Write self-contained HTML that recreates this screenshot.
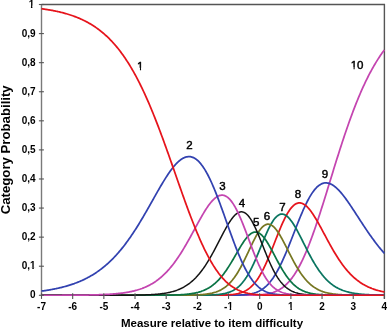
<!DOCTYPE html>
<html><head><meta charset="utf-8"><title>Category probability curves</title><style>
html,body{margin:0;padding:0;background:#fff;width:387px;height:330px;overflow:hidden;}
svg{display:block;will-change:transform;}
</style></head><body>
<svg width="387" height="330" viewBox="0 0 387 330" font-family="Liberation Sans, sans-serif">
<rect width="387" height="330" fill="#fff"/>
<path d="M41.5 4.5H384.4V298.8" fill="none" stroke="#555" stroke-width="1.4"/>
<line x1="41.5" y1="4.5" x2="41.5" y2="295.3" stroke="#7a7a7a" stroke-width="1.4"/>
<line x1="41.5" y1="295.3" x2="384.4" y2="295.3" stroke="#7a7a7a" stroke-width="1.2"/>
<defs><clipPath id="pc"><rect x="0" y="0" width="387" height="296.1"/></clipPath></defs>
<g fill="none" stroke-linejoin="round" clip-path="url(#pc)">
<polyline points="41.50,295.30 42.28,295.30 43.06,295.30 43.84,295.30 44.62,295.30 45.40,295.30 46.18,295.30 46.96,295.30 47.73,295.30 48.51,295.30 49.29,295.30 50.07,295.30 50.85,295.30 51.63,295.30 52.41,295.30 53.19,295.30 53.97,295.30 54.75,295.30 55.53,295.30 56.31,295.30 57.09,295.30 57.87,295.30 58.64,295.30 59.42,295.30 60.20,295.30 60.98,295.30 61.76,295.30 62.54,295.30 63.32,295.30 64.10,295.30 64.88,295.30 65.66,295.30 66.44,295.30 67.22,295.30 68.00,295.30 68.78,295.30 69.56,295.30 70.33,295.30 71.11,295.30 71.89,295.30 72.67,295.30 73.45,295.30 74.23,295.30 75.01,295.30 75.79,295.30 76.57,295.30 77.35,295.30 78.13,295.30 78.91,295.30 79.69,295.30 80.47,295.30 81.25,295.30 82.02,295.30 82.80,295.30 83.58,295.30 84.36,295.30 85.14,295.30 85.92,295.30 86.70,295.30 87.48,295.30 88.26,295.30 89.04,295.30 89.82,295.30 90.60,295.30 91.38,295.30 92.16,295.30 92.94,295.30 93.71,295.30 94.49,295.30 95.27,295.30 96.05,295.30 96.83,295.30 97.61,295.30 98.39,295.30 99.17,295.30 99.95,295.30 100.73,295.30 101.51,295.30 102.29,295.30 103.07,295.30 103.85,295.30 104.62,295.30 105.40,295.30 106.18,295.30 106.96,295.30 107.74,295.30 108.52,295.30 109.30,295.30 110.08,295.30 110.86,295.30 111.64,295.30 112.42,295.30 113.20,295.30 113.98,295.30 114.76,295.30 115.54,295.30 116.31,295.30 117.09,295.30 117.87,295.30 118.65,295.30 119.43,295.30 120.21,295.30 120.99,295.30 121.77,295.30 122.55,295.30 123.33,295.30 124.11,295.30 124.89,295.30 125.67,295.30 126.45,295.30 127.22,295.30 128.00,295.30 128.78,295.30 129.56,295.30 130.34,295.30 131.12,295.30 131.90,295.30 132.68,295.30 133.46,295.30 134.24,295.30 135.02,295.30 135.80,295.30 136.58,295.30 137.36,295.30 138.14,295.30 138.91,295.30 139.69,295.30 140.47,295.30 141.25,295.30 142.03,295.30 142.81,295.30 143.59,295.30 144.37,295.30 145.15,295.30 145.93,295.30 146.71,295.30 147.49,295.30 148.27,295.30 149.05,295.30 149.83,295.30 150.60,295.30 151.38,295.30 152.16,295.30 152.94,295.30 153.72,295.30 154.50,295.30 155.28,295.30 156.06,295.30 156.84,295.30 157.62,295.30 158.40,295.30 159.18,295.30 159.96,295.30 160.74,295.30 161.51,295.30 162.29,295.30 163.07,295.30 163.85,295.30 164.63,295.30 165.41,295.30 166.19,295.30 166.97,295.30 167.75,295.30 168.53,295.30 169.31,295.30 170.09,295.30 170.87,295.30 171.65,295.30 172.43,295.30 173.20,295.30 173.98,295.30 174.76,295.30 175.54,295.30 176.32,295.30 177.10,295.30 177.88,295.30 178.66,295.30 179.44,295.30 180.22,295.30 181.00,295.30 181.78,295.30 182.56,295.30 183.34,295.30 184.12,295.30 184.89,295.30 185.67,295.30 186.45,295.30 187.23,295.30 188.01,295.30 188.79,295.30 189.57,295.30 190.35,295.30 191.13,295.30 191.91,295.30 192.69,295.30 193.47,295.30 194.25,295.30 195.03,295.30 195.81,295.30 196.58,295.30 197.36,295.30 198.14,295.30 198.92,295.30 199.70,295.30 200.48,295.30 201.26,295.30 202.04,295.30 202.82,295.30 203.60,295.30 204.38,295.30 205.16,295.30 205.94,295.30 206.72,295.30 207.49,295.30 208.27,295.30 209.05,295.30 209.83,295.30 210.61,295.30 211.39,295.30 212.17,295.30 212.95,295.30 213.73,295.30 214.51,295.30 215.29,295.30 216.07,295.30 216.85,295.30 217.63,295.30 218.41,295.30 219.18,295.30 219.96,295.30 220.74,295.30 221.52,295.30 222.30,295.30 223.08,295.30 223.86,295.30 224.64,295.30 225.42,295.30 226.20,295.30 226.98,295.30 227.76,295.30 228.54,295.30 229.32,295.30 230.10,295.30 230.87,295.30 231.65,295.30 232.43,295.30 233.21,295.30 233.99,295.30 234.77,295.29 235.55,295.29 236.33,295.29 237.11,295.29 237.89,295.29 238.67,295.29 239.45,295.29 240.23,295.28 241.01,295.28 241.78,295.28 242.56,295.27 243.34,295.27 244.12,295.27 244.90,295.26 245.68,295.25 246.46,295.25 247.24,295.24 248.02,295.23 248.80,295.22 249.58,295.21 250.36,295.19 251.14,295.18 251.92,295.16 252.70,295.14 253.47,295.12 254.25,295.09 255.03,295.07 255.81,295.03 256.59,295.00 257.37,294.96 258.15,294.92 258.93,294.87 259.71,294.82 260.49,294.76 261.27,294.69 262.05,294.62 262.83,294.54 263.61,294.45 264.38,294.35 265.16,294.25 265.94,294.13 266.72,294.00 267.50,293.86 268.28,293.71 269.06,293.54 269.84,293.37 270.62,293.17 271.40,292.96 272.18,292.73 272.96,292.49 273.74,292.22 274.52,291.94 275.30,291.63 276.07,291.30 276.85,290.95 277.63,290.57 278.41,290.17 279.19,289.74 279.97,289.29 280.75,288.80 281.53,288.29 282.31,287.74 283.09,287.16 283.87,286.55 284.65,285.91 285.43,285.23 286.21,284.51 286.99,283.75 287.76,282.96 288.54,282.13 289.32,281.26 290.10,280.35 290.88,279.39 291.66,278.40 292.44,277.36 293.22,276.27 294.00,275.15 294.78,273.98 295.56,272.76 296.34,271.50 297.12,270.19 297.90,268.84 298.68,267.45 299.45,266.00 300.23,264.51 301.01,262.98 301.79,261.40 302.57,259.78 303.35,258.11 304.13,256.39 304.91,254.64 305.69,252.84 306.47,250.99 307.25,249.11 308.03,247.19 308.81,245.22 309.59,243.22 310.36,241.18 311.14,239.10 311.92,236.98 312.70,234.84 313.48,232.66 314.26,230.44 315.04,228.20 315.82,225.93 316.60,223.63 317.38,221.30 318.16,218.95 318.94,216.57 319.72,214.18 320.50,211.76 321.28,209.33 322.05,206.87 322.83,204.41 323.61,201.93 324.39,199.43 325.17,196.93 325.95,194.41 326.73,191.89 327.51,189.37 328.29,186.83 329.07,184.30 329.85,181.76 330.63,179.23 331.41,176.69 332.19,174.16 332.96,171.63 333.74,169.11 334.52,166.60 335.30,164.09 336.08,161.59 336.86,159.10 337.64,156.62 338.42,154.16 339.20,151.71 339.98,149.28 340.76,146.86 341.54,144.45 342.32,142.07 343.10,139.70 343.88,137.35 344.65,135.03 345.43,132.72 346.21,130.43 346.99,128.17 347.77,125.93 348.55,123.71 349.33,121.52 350.11,119.35 350.89,117.21 351.67,115.09 352.45,112.99 353.23,110.92 354.01,108.88 354.79,106.87 355.57,104.88 356.34,102.91 357.12,100.98 357.90,99.07 358.68,97.19 359.46,95.33 360.24,93.51 361.02,91.71 361.80,89.94 362.58,88.19 363.36,86.47 364.14,84.79 364.92,83.12 365.70,81.49 366.48,79.88 367.26,78.30 368.03,76.74 368.81,75.22 369.59,73.71 370.37,72.24 371.15,70.79 371.93,69.37 372.71,67.97 373.49,66.60 374.27,65.25 375.05,63.93 375.83,62.63 376.61,61.36 377.39,60.11 378.17,58.89 378.94,57.68 379.72,56.51 380.50,55.35 381.28,54.22 382.06,53.11 382.84,52.02 383.62,50.95 384.40,49.91" stroke="#c445b0" stroke-width="1.75"/>
<polyline points="41.50,295.30 42.28,295.30 43.06,295.30 43.84,295.30 44.62,295.30 45.40,295.30 46.18,295.30 46.96,295.30 47.73,295.30 48.51,295.30 49.29,295.30 50.07,295.30 50.85,295.30 51.63,295.30 52.41,295.30 53.19,295.30 53.97,295.30 54.75,295.30 55.53,295.30 56.31,295.30 57.09,295.30 57.87,295.30 58.64,295.30 59.42,295.30 60.20,295.30 60.98,295.30 61.76,295.30 62.54,295.30 63.32,295.30 64.10,295.30 64.88,295.30 65.66,295.30 66.44,295.30 67.22,295.30 68.00,295.30 68.78,295.30 69.56,295.30 70.33,295.30 71.11,295.30 71.89,295.30 72.67,295.30 73.45,295.30 74.23,295.30 75.01,295.30 75.79,295.30 76.57,295.30 77.35,295.30 78.13,295.30 78.91,295.30 79.69,295.30 80.47,295.30 81.25,295.30 82.02,295.30 82.80,295.30 83.58,295.30 84.36,295.30 85.14,295.30 85.92,295.30 86.70,295.30 87.48,295.30 88.26,295.30 89.04,295.30 89.82,295.30 90.60,295.30 91.38,295.30 92.16,295.30 92.94,295.30 93.71,295.30 94.49,295.30 95.27,295.30 96.05,295.30 96.83,295.30 97.61,295.30 98.39,295.30 99.17,295.30 99.95,295.30 100.73,295.30 101.51,295.30 102.29,295.30 103.07,295.30 103.85,295.30 104.62,295.30 105.40,295.30 106.18,295.30 106.96,295.30 107.74,295.30 108.52,295.30 109.30,295.30 110.08,295.30 110.86,295.30 111.64,295.30 112.42,295.30 113.20,295.30 113.98,295.30 114.76,295.30 115.54,295.30 116.31,295.30 117.09,295.30 117.87,295.30 118.65,295.30 119.43,295.30 120.21,295.30 120.99,295.30 121.77,295.30 122.55,295.30 123.33,295.30 124.11,295.30 124.89,295.30 125.67,295.30 126.45,295.30 127.22,295.30 128.00,295.30 128.78,295.30 129.56,295.30 130.34,295.30 131.12,295.30 131.90,295.30 132.68,295.30 133.46,295.30 134.24,295.30 135.02,295.30 135.80,295.30 136.58,295.30 137.36,295.30 138.14,295.30 138.91,295.30 139.69,295.30 140.47,295.30 141.25,295.30 142.03,295.30 142.81,295.30 143.59,295.30 144.37,295.30 145.15,295.30 145.93,295.30 146.71,295.30 147.49,295.30 148.27,295.30 149.05,295.30 149.83,295.30 150.60,295.30 151.38,295.30 152.16,295.30 152.94,295.30 153.72,295.30 154.50,295.30 155.28,295.30 156.06,295.30 156.84,295.30 157.62,295.30 158.40,295.30 159.18,295.30 159.96,295.30 160.74,295.30 161.51,295.30 162.29,295.30 163.07,295.30 163.85,295.30 164.63,295.30 165.41,295.30 166.19,295.30 166.97,295.30 167.75,295.30 168.53,295.30 169.31,295.30 170.09,295.30 170.87,295.30 171.65,295.30 172.43,295.30 173.20,295.30 173.98,295.30 174.76,295.30 175.54,295.30 176.32,295.30 177.10,295.30 177.88,295.30 178.66,295.30 179.44,295.30 180.22,295.30 181.00,295.30 181.78,295.30 182.56,295.30 183.34,295.30 184.12,295.30 184.89,295.30 185.67,295.30 186.45,295.30 187.23,295.30 188.01,295.30 188.79,295.30 189.57,295.30 190.35,295.30 191.13,295.30 191.91,295.30 192.69,295.30 193.47,295.30 194.25,295.30 195.03,295.30 195.81,295.30 196.58,295.30 197.36,295.30 198.14,295.30 198.92,295.30 199.70,295.30 200.48,295.30 201.26,295.30 202.04,295.30 202.82,295.30 203.60,295.30 204.38,295.30 205.16,295.30 205.94,295.30 206.72,295.30 207.49,295.30 208.27,295.30 209.05,295.30 209.83,295.30 210.61,295.30 211.39,295.30 212.17,295.30 212.95,295.30 213.73,295.30 214.51,295.30 215.29,295.30 216.07,295.30 216.85,295.30 217.63,295.30 218.41,295.29 219.18,295.29 219.96,295.29 220.74,295.29 221.52,295.29 222.30,295.29 223.08,295.29 223.86,295.28 224.64,295.28 225.42,295.28 226.20,295.28 226.98,295.27 227.76,295.27 228.54,295.26 229.32,295.26 230.10,295.25 230.87,295.24 231.65,295.23 232.43,295.22 233.21,295.21 233.99,295.20 234.77,295.18 235.55,295.17 236.33,295.15 237.11,295.13 237.89,295.10 238.67,295.08 239.45,295.05 240.23,295.01 241.01,294.97 241.78,294.93 242.56,294.88 243.34,294.82 244.12,294.76 244.90,294.70 245.68,294.62 246.46,294.53 247.24,294.44 248.02,294.34 248.80,294.22 249.58,294.09 250.36,293.95 251.14,293.80 251.92,293.63 252.70,293.44 253.47,293.23 254.25,293.01 255.03,292.76 255.81,292.50 256.59,292.21 257.37,291.89 258.15,291.55 258.93,291.18 259.71,290.78 260.49,290.35 261.27,289.89 262.05,289.40 262.83,288.86 263.61,288.30 264.38,287.69 265.16,287.04 265.94,286.35 266.72,285.62 267.50,284.85 268.28,284.03 269.06,283.17 269.84,282.26 270.62,281.30 271.40,280.29 272.18,279.24 272.96,278.14 273.74,276.98 274.52,275.78 275.30,274.53 276.07,273.23 276.85,271.88 277.63,270.48 278.41,269.04 279.19,267.55 279.97,266.01 280.75,264.43 281.53,262.81 282.31,261.14 283.09,259.44 283.87,257.70 284.65,255.92 285.43,254.11 286.21,252.26 286.99,250.39 287.76,248.49 288.54,246.57 289.32,244.63 290.10,242.67 290.88,240.70 291.66,238.71 292.44,236.71 293.22,234.71 294.00,232.71 294.78,230.71 295.56,228.71 296.34,226.72 297.12,224.75 297.90,222.78 298.68,220.84 299.45,218.91 300.23,217.01 301.01,215.14 301.79,213.30 302.57,211.49 303.35,209.72 304.13,207.99 304.91,206.30 305.69,204.65 306.47,203.06 307.25,201.51 308.03,200.01 308.81,198.57 309.59,197.19 310.36,195.86 311.14,194.59 311.92,193.38 312.70,192.24 313.48,191.16 314.26,190.14 315.04,189.19 315.82,188.30 316.60,187.48 317.38,186.73 318.16,186.05 318.94,185.43 319.72,184.88 320.50,184.40 321.28,183.99 322.05,183.64 322.83,183.36 323.61,183.14 324.39,182.99 325.17,182.90 325.95,182.87 326.73,182.91 327.51,183.01 328.29,183.16 329.07,183.37 329.85,183.64 330.63,183.97 331.41,184.35 332.19,184.78 332.96,185.25 333.74,185.78 334.52,186.36 335.30,186.98 336.08,187.64 336.86,188.34 337.64,189.09 338.42,189.87 339.20,190.69 339.98,191.54 340.76,192.43 341.54,193.34 342.32,194.29 343.10,195.26 343.88,196.26 344.65,197.28 345.43,198.32 346.21,199.39 346.99,200.47 347.77,201.57 348.55,202.69 349.33,203.82 350.11,204.97 350.89,206.12 351.67,207.29 352.45,208.47 353.23,209.65 354.01,210.84 354.79,212.03 355.57,213.23 356.34,214.43 357.12,215.64 357.90,216.84 358.68,218.04 359.46,219.25 360.24,220.45 361.02,221.64 361.80,222.84 362.58,224.03 363.36,225.21 364.14,226.39 364.92,227.56 365.70,228.72 366.48,229.88 367.26,231.02 368.03,232.16 368.81,233.29 369.59,234.41 370.37,235.52 371.15,236.61 371.93,237.70 372.71,238.77 373.49,239.84 374.27,240.89 375.05,241.93 375.83,242.95 376.61,243.97 377.39,244.97 378.17,245.95 378.94,246.93 379.72,247.89 380.50,248.83 381.28,249.77 382.06,250.69 382.84,251.59 383.62,252.48 384.40,253.36" stroke="#3242b0" stroke-width="1.75"/>
<polyline points="41.50,295.30 42.28,295.30 43.06,295.30 43.84,295.30 44.62,295.30 45.40,295.30 46.18,295.30 46.96,295.30 47.73,295.30 48.51,295.30 49.29,295.30 50.07,295.30 50.85,295.30 51.63,295.30 52.41,295.30 53.19,295.30 53.97,295.30 54.75,295.30 55.53,295.30 56.31,295.30 57.09,295.30 57.87,295.30 58.64,295.30 59.42,295.30 60.20,295.30 60.98,295.30 61.76,295.30 62.54,295.30 63.32,295.30 64.10,295.30 64.88,295.30 65.66,295.30 66.44,295.30 67.22,295.30 68.00,295.30 68.78,295.30 69.56,295.30 70.33,295.30 71.11,295.30 71.89,295.30 72.67,295.30 73.45,295.30 74.23,295.30 75.01,295.30 75.79,295.30 76.57,295.30 77.35,295.30 78.13,295.30 78.91,295.30 79.69,295.30 80.47,295.30 81.25,295.30 82.02,295.30 82.80,295.30 83.58,295.30 84.36,295.30 85.14,295.30 85.92,295.30 86.70,295.30 87.48,295.30 88.26,295.30 89.04,295.30 89.82,295.30 90.60,295.30 91.38,295.30 92.16,295.30 92.94,295.30 93.71,295.30 94.49,295.30 95.27,295.30 96.05,295.30 96.83,295.30 97.61,295.30 98.39,295.30 99.17,295.30 99.95,295.30 100.73,295.30 101.51,295.30 102.29,295.30 103.07,295.30 103.85,295.30 104.62,295.30 105.40,295.30 106.18,295.30 106.96,295.30 107.74,295.30 108.52,295.30 109.30,295.30 110.08,295.30 110.86,295.30 111.64,295.30 112.42,295.30 113.20,295.30 113.98,295.30 114.76,295.30 115.54,295.30 116.31,295.30 117.09,295.30 117.87,295.30 118.65,295.30 119.43,295.30 120.21,295.30 120.99,295.30 121.77,295.30 122.55,295.30 123.33,295.30 124.11,295.30 124.89,295.30 125.67,295.30 126.45,295.30 127.22,295.30 128.00,295.30 128.78,295.30 129.56,295.30 130.34,295.30 131.12,295.30 131.90,295.30 132.68,295.30 133.46,295.30 134.24,295.30 135.02,295.30 135.80,295.30 136.58,295.30 137.36,295.30 138.14,295.30 138.91,295.30 139.69,295.30 140.47,295.30 141.25,295.30 142.03,295.30 142.81,295.30 143.59,295.30 144.37,295.30 145.15,295.30 145.93,295.30 146.71,295.30 147.49,295.30 148.27,295.30 149.05,295.30 149.83,295.30 150.60,295.30 151.38,295.30 152.16,295.30 152.94,295.30 153.72,295.30 154.50,295.30 155.28,295.30 156.06,295.30 156.84,295.30 157.62,295.30 158.40,295.30 159.18,295.30 159.96,295.30 160.74,295.30 161.51,295.30 162.29,295.30 163.07,295.30 163.85,295.30 164.63,295.30 165.41,295.30 166.19,295.30 166.97,295.30 167.75,295.30 168.53,295.30 169.31,295.30 170.09,295.30 170.87,295.30 171.65,295.30 172.43,295.30 173.20,295.30 173.98,295.30 174.76,295.30 175.54,295.30 176.32,295.30 177.10,295.30 177.88,295.30 178.66,295.30 179.44,295.30 180.22,295.30 181.00,295.30 181.78,295.30 182.56,295.30 183.34,295.30 184.12,295.30 184.89,295.30 185.67,295.30 186.45,295.30 187.23,295.30 188.01,295.30 188.79,295.30 189.57,295.30 190.35,295.30 191.13,295.30 191.91,295.30 192.69,295.30 193.47,295.30 194.25,295.30 195.03,295.30 195.81,295.30 196.58,295.30 197.36,295.30 198.14,295.30 198.92,295.30 199.70,295.30 200.48,295.30 201.26,295.30 202.04,295.29 202.82,295.29 203.60,295.29 204.38,295.29 205.16,295.29 205.94,295.29 206.72,295.29 207.49,295.29 208.27,295.28 209.05,295.28 209.83,295.28 210.61,295.28 211.39,295.27 212.17,295.27 212.95,295.26 213.73,295.26 214.51,295.25 215.29,295.25 216.07,295.24 216.85,295.23 217.63,295.22 218.41,295.21 219.18,295.20 219.96,295.18 220.74,295.17 221.52,295.15 222.30,295.13 223.08,295.11 223.86,295.08 224.64,295.05 225.42,295.02 226.20,294.99 226.98,294.95 227.76,294.90 228.54,294.85 229.32,294.80 230.10,294.73 230.87,294.67 231.65,294.59 232.43,294.50 233.21,294.41 233.99,294.30 234.77,294.19 235.55,294.06 236.33,293.92 237.11,293.76 237.89,293.59 238.67,293.40 239.45,293.19 240.23,292.96 241.01,292.71 241.78,292.44 242.56,292.15 243.34,291.82 244.12,291.47 244.90,291.09 245.68,290.68 246.46,290.23 247.24,289.75 248.02,289.23 248.80,288.67 249.58,288.07 250.36,287.42 251.14,286.73 251.92,286.00 252.70,285.21 253.47,284.37 254.25,283.49 255.03,282.55 255.81,281.55 256.59,280.50 257.37,279.40 258.15,278.24 258.93,277.02 259.71,275.75 260.49,274.41 261.27,273.03 262.05,271.59 262.83,270.09 263.61,268.54 264.38,266.94 265.16,265.29 265.94,263.59 266.72,261.85 267.50,260.07 268.28,258.25 269.06,256.39 269.84,254.51 270.62,252.59 271.40,250.65 272.18,248.69 272.96,246.72 273.74,244.74 274.52,242.75 275.30,240.76 276.07,238.78 276.85,236.81 277.63,234.85 278.41,232.91 279.19,230.99 279.97,229.11 280.75,227.26 281.53,225.45 282.31,223.68 283.09,221.96 283.87,220.30 284.65,218.69 285.43,217.15 286.21,215.67 286.99,214.25 287.76,212.91 288.54,211.65 289.32,210.46 290.10,209.36 290.88,208.33 291.66,207.39 292.44,206.54 293.22,205.78 294.00,205.10 294.78,204.52 295.56,204.02 296.34,203.62 297.12,203.30 297.90,203.08 298.68,202.94 299.45,202.89 300.23,202.93 301.01,203.06 301.79,203.27 302.57,203.56 303.35,203.94 304.13,204.39 304.91,204.92 305.69,205.52 306.47,206.19 307.25,206.94 308.03,207.74 308.81,208.61 309.59,209.54 310.36,210.53 311.14,211.57 311.92,212.65 312.70,213.79 313.48,214.97 314.26,216.19 315.04,217.44 315.82,218.73 316.60,220.05 317.38,221.40 318.16,222.77 318.94,224.16 319.72,225.57 320.50,226.99 321.28,228.43 322.05,229.88 322.83,231.33 323.61,232.79 324.39,234.25 325.17,235.71 325.95,237.17 326.73,238.62 327.51,240.07 328.29,241.51 329.07,242.94 329.85,244.35 330.63,245.75 331.41,247.14 332.19,248.51 332.96,249.86 333.74,251.20 334.52,252.51 335.30,253.81 336.08,255.08 336.86,256.33 337.64,257.56 338.42,258.76 339.20,259.94 339.98,261.09 340.76,262.22 341.54,263.32 342.32,264.40 343.10,265.46 343.88,266.48 344.65,267.48 345.43,268.46 346.21,269.41 346.99,270.34 347.77,271.23 348.55,272.11 349.33,272.96 350.11,273.78 350.89,274.58 351.67,275.36 352.45,276.11 353.23,276.84 354.01,277.54 354.79,278.23 355.57,278.89 356.34,279.53 357.12,280.15 357.90,280.74 358.68,281.32 359.46,281.88 360.24,282.42 361.02,282.94 361.80,283.44 362.58,283.92 363.36,284.38 364.14,284.83 364.92,285.26 365.70,285.68 366.48,286.08 367.26,286.47 368.03,286.84 368.81,287.19 369.59,287.54 370.37,287.87 371.15,288.18 371.93,288.49 372.71,288.78 373.49,289.06 374.27,289.33 375.05,289.59 375.83,289.84 376.61,290.07 377.39,290.30 378.17,290.52 378.94,290.73 379.72,290.93 380.50,291.12 381.28,291.31 382.06,291.49 382.84,291.66 383.62,291.82 384.40,291.97" stroke="#e6141c" stroke-width="1.75"/>
<polyline points="41.50,295.30 42.28,295.30 43.06,295.30 43.84,295.30 44.62,295.30 45.40,295.30 46.18,295.30 46.96,295.30 47.73,295.30 48.51,295.30 49.29,295.30 50.07,295.30 50.85,295.30 51.63,295.30 52.41,295.30 53.19,295.30 53.97,295.30 54.75,295.30 55.53,295.30 56.31,295.30 57.09,295.30 57.87,295.30 58.64,295.30 59.42,295.30 60.20,295.30 60.98,295.30 61.76,295.30 62.54,295.30 63.32,295.30 64.10,295.30 64.88,295.30 65.66,295.30 66.44,295.30 67.22,295.30 68.00,295.30 68.78,295.30 69.56,295.30 70.33,295.30 71.11,295.30 71.89,295.30 72.67,295.30 73.45,295.30 74.23,295.30 75.01,295.30 75.79,295.30 76.57,295.30 77.35,295.30 78.13,295.30 78.91,295.30 79.69,295.30 80.47,295.30 81.25,295.30 82.02,295.30 82.80,295.30 83.58,295.30 84.36,295.30 85.14,295.30 85.92,295.30 86.70,295.30 87.48,295.30 88.26,295.30 89.04,295.30 89.82,295.30 90.60,295.30 91.38,295.30 92.16,295.30 92.94,295.30 93.71,295.30 94.49,295.30 95.27,295.30 96.05,295.30 96.83,295.30 97.61,295.30 98.39,295.30 99.17,295.30 99.95,295.30 100.73,295.30 101.51,295.30 102.29,295.30 103.07,295.30 103.85,295.30 104.62,295.30 105.40,295.30 106.18,295.30 106.96,295.30 107.74,295.30 108.52,295.30 109.30,295.30 110.08,295.30 110.86,295.30 111.64,295.30 112.42,295.30 113.20,295.30 113.98,295.30 114.76,295.30 115.54,295.30 116.31,295.30 117.09,295.30 117.87,295.30 118.65,295.30 119.43,295.30 120.21,295.30 120.99,295.30 121.77,295.30 122.55,295.30 123.33,295.30 124.11,295.30 124.89,295.30 125.67,295.30 126.45,295.30 127.22,295.30 128.00,295.30 128.78,295.30 129.56,295.30 130.34,295.30 131.12,295.30 131.90,295.30 132.68,295.30 133.46,295.30 134.24,295.30 135.02,295.30 135.80,295.30 136.58,295.30 137.36,295.30 138.14,295.30 138.91,295.30 139.69,295.30 140.47,295.30 141.25,295.30 142.03,295.30 142.81,295.30 143.59,295.30 144.37,295.30 145.15,295.30 145.93,295.30 146.71,295.30 147.49,295.30 148.27,295.30 149.05,295.30 149.83,295.30 150.60,295.30 151.38,295.30 152.16,295.30 152.94,295.30 153.72,295.30 154.50,295.30 155.28,295.30 156.06,295.30 156.84,295.30 157.62,295.30 158.40,295.30 159.18,295.30 159.96,295.30 160.74,295.30 161.51,295.30 162.29,295.30 163.07,295.30 163.85,295.30 164.63,295.30 165.41,295.30 166.19,295.30 166.97,295.30 167.75,295.30 168.53,295.30 169.31,295.30 170.09,295.30 170.87,295.30 171.65,295.30 172.43,295.30 173.20,295.30 173.98,295.30 174.76,295.30 175.54,295.30 176.32,295.30 177.10,295.30 177.88,295.30 178.66,295.30 179.44,295.30 180.22,295.30 181.00,295.30 181.78,295.30 182.56,295.30 183.34,295.30 184.12,295.30 184.89,295.29 185.67,295.29 186.45,295.29 187.23,295.29 188.01,295.29 188.79,295.29 189.57,295.29 190.35,295.29 191.13,295.29 191.91,295.28 192.69,295.28 193.47,295.28 194.25,295.28 195.03,295.27 195.81,295.27 196.58,295.27 197.36,295.26 198.14,295.26 198.92,295.25 199.70,295.25 200.48,295.24 201.26,295.23 202.04,295.22 202.82,295.21 203.60,295.20 204.38,295.19 205.16,295.18 205.94,295.16 206.72,295.14 207.49,295.13 208.27,295.11 209.05,295.08 209.83,295.06 210.61,295.03 211.39,295.00 212.17,294.96 212.95,294.92 213.73,294.88 214.51,294.83 215.29,294.78 216.07,294.72 216.85,294.66 217.63,294.58 218.41,294.51 219.18,294.42 219.96,294.33 220.74,294.22 221.52,294.11 222.30,293.98 223.08,293.84 223.86,293.69 224.64,293.53 225.42,293.35 226.20,293.15 226.98,292.94 227.76,292.70 228.54,292.45 229.32,292.17 230.10,291.88 230.87,291.55 231.65,291.20 232.43,290.82 233.21,290.41 233.99,289.97 234.77,289.50 235.55,288.99 236.33,288.44 237.11,287.86 237.89,287.23 238.67,286.56 239.45,285.85 240.23,285.08 241.01,284.27 241.78,283.42 242.56,282.51 243.34,281.54 244.12,280.53 244.90,279.46 245.68,278.33 246.46,277.15 247.24,275.91 248.02,274.62 248.80,273.27 249.58,271.87 250.36,270.41 251.14,268.90 251.92,267.34 252.70,265.72 253.47,264.07 254.25,262.36 255.03,260.62 255.81,258.84 256.59,257.03 257.37,255.18 258.15,253.32 258.93,251.43 259.71,249.53 260.49,247.62 261.27,245.71 262.05,243.81 262.83,241.91 263.61,240.03 264.38,238.17 265.16,236.34 265.94,234.54 266.72,232.79 267.50,231.08 268.28,229.43 269.06,227.84 269.84,226.31 270.62,224.86 271.40,223.48 272.18,222.18 272.96,220.97 273.74,219.84 274.52,218.81 275.30,217.88 276.07,217.04 276.85,216.31 277.63,215.68 278.41,215.16 279.19,214.74 279.97,214.42 280.75,214.21 281.53,214.11 282.31,214.11 283.09,214.22 283.87,214.43 284.65,214.73 285.43,215.14 286.21,215.63 286.99,216.22 287.76,216.90 288.54,217.66 289.32,218.51 290.10,219.43 290.88,220.42 291.66,221.48 292.44,222.60 293.22,223.79 294.00,225.03 294.78,226.32 295.56,227.65 296.34,229.03 297.12,230.44 297.90,231.89 298.68,233.36 299.45,234.86 300.23,236.38 301.01,237.91 301.79,239.46 302.57,241.01 303.35,242.57 304.13,244.12 304.91,245.68 305.69,247.23 306.47,248.76 307.25,250.29 308.03,251.80 308.81,253.30 309.59,254.77 310.36,256.23 311.14,257.66 311.92,259.07 312.70,260.45 313.48,261.80 314.26,263.12 315.04,264.41 315.82,265.68 316.60,266.90 317.38,268.10 318.16,269.26 318.94,270.39 319.72,271.49 320.50,272.55 321.28,273.58 322.05,274.58 322.83,275.54 323.61,276.46 324.39,277.36 325.17,278.22 325.95,279.05 326.73,279.85 327.51,280.61 328.29,281.35 329.07,282.05 329.85,282.73 330.63,283.38 331.41,284.00 332.19,284.59 332.96,285.16 333.74,285.70 334.52,286.22 335.30,286.71 336.08,287.18 336.86,287.62 337.64,288.05 338.42,288.45 339.20,288.84 339.98,289.20 340.76,289.55 341.54,289.88 342.32,290.19 343.10,290.49 343.88,290.77 344.65,291.03 345.43,291.28 346.21,291.52 346.99,291.75 347.77,291.96 348.55,292.16 349.33,292.35 350.11,292.53 350.89,292.70 351.67,292.86 352.45,293.01 353.23,293.15 354.01,293.28 354.79,293.41 355.57,293.53 356.34,293.64 357.12,293.74 357.90,293.84 358.68,293.93 359.46,294.02 360.24,294.10 361.02,294.18 361.80,294.25 362.58,294.32 363.36,294.38 364.14,294.44 364.92,294.50 365.70,294.55 366.48,294.60 367.26,294.64 368.03,294.69 368.81,294.73 369.59,294.76 370.37,294.80 371.15,294.83 371.93,294.86 372.71,294.89 373.49,294.92 374.27,294.95 375.05,294.97 375.83,294.99 376.61,295.01 377.39,295.03 378.17,295.05 378.94,295.07 379.72,295.08 380.50,295.10 381.28,295.11 382.06,295.12 382.84,295.14 383.62,295.15 384.40,295.16" stroke="#0a7560" stroke-width="1.75"/>
<polyline points="41.50,295.30 42.28,295.30 43.06,295.30 43.84,295.30 44.62,295.30 45.40,295.30 46.18,295.30 46.96,295.30 47.73,295.30 48.51,295.30 49.29,295.30 50.07,295.30 50.85,295.30 51.63,295.30 52.41,295.30 53.19,295.30 53.97,295.30 54.75,295.30 55.53,295.30 56.31,295.30 57.09,295.30 57.87,295.30 58.64,295.30 59.42,295.30 60.20,295.30 60.98,295.30 61.76,295.30 62.54,295.30 63.32,295.30 64.10,295.30 64.88,295.30 65.66,295.30 66.44,295.30 67.22,295.30 68.00,295.30 68.78,295.30 69.56,295.30 70.33,295.30 71.11,295.30 71.89,295.30 72.67,295.30 73.45,295.30 74.23,295.30 75.01,295.30 75.79,295.30 76.57,295.30 77.35,295.30 78.13,295.30 78.91,295.30 79.69,295.30 80.47,295.30 81.25,295.30 82.02,295.30 82.80,295.30 83.58,295.30 84.36,295.30 85.14,295.30 85.92,295.30 86.70,295.30 87.48,295.30 88.26,295.30 89.04,295.30 89.82,295.30 90.60,295.30 91.38,295.30 92.16,295.30 92.94,295.30 93.71,295.30 94.49,295.30 95.27,295.30 96.05,295.30 96.83,295.30 97.61,295.30 98.39,295.30 99.17,295.30 99.95,295.30 100.73,295.30 101.51,295.30 102.29,295.30 103.07,295.30 103.85,295.30 104.62,295.30 105.40,295.30 106.18,295.30 106.96,295.30 107.74,295.30 108.52,295.30 109.30,295.30 110.08,295.30 110.86,295.30 111.64,295.30 112.42,295.30 113.20,295.30 113.98,295.30 114.76,295.30 115.54,295.30 116.31,295.30 117.09,295.30 117.87,295.30 118.65,295.30 119.43,295.30 120.21,295.30 120.99,295.30 121.77,295.30 122.55,295.30 123.33,295.30 124.11,295.30 124.89,295.30 125.67,295.30 126.45,295.30 127.22,295.30 128.00,295.30 128.78,295.30 129.56,295.30 130.34,295.30 131.12,295.30 131.90,295.30 132.68,295.30 133.46,295.30 134.24,295.30 135.02,295.30 135.80,295.30 136.58,295.30 137.36,295.30 138.14,295.30 138.91,295.30 139.69,295.30 140.47,295.30 141.25,295.30 142.03,295.30 142.81,295.30 143.59,295.30 144.37,295.30 145.15,295.30 145.93,295.30 146.71,295.30 147.49,295.30 148.27,295.30 149.05,295.30 149.83,295.30 150.60,295.30 151.38,295.30 152.16,295.30 152.94,295.30 153.72,295.30 154.50,295.30 155.28,295.30 156.06,295.30 156.84,295.30 157.62,295.30 158.40,295.30 159.18,295.30 159.96,295.30 160.74,295.30 161.51,295.30 162.29,295.30 163.07,295.30 163.85,295.30 164.63,295.29 165.41,295.29 166.19,295.29 166.97,295.29 167.75,295.29 168.53,295.29 169.31,295.29 170.09,295.29 170.87,295.29 171.65,295.29 172.43,295.28 173.20,295.28 173.98,295.28 174.76,295.28 175.54,295.28 176.32,295.27 177.10,295.27 177.88,295.27 178.66,295.26 179.44,295.26 180.22,295.26 181.00,295.25 181.78,295.25 182.56,295.24 183.34,295.23 184.12,295.23 184.89,295.22 185.67,295.21 186.45,295.20 187.23,295.19 188.01,295.18 188.79,295.16 189.57,295.15 190.35,295.13 191.13,295.11 191.91,295.10 192.69,295.07 193.47,295.05 194.25,295.03 195.03,295.00 195.81,294.97 196.58,294.93 197.36,294.90 198.14,294.86 198.92,294.81 199.70,294.77 200.48,294.71 201.26,294.66 202.04,294.60 202.82,294.53 203.60,294.46 204.38,294.38 205.16,294.29 205.94,294.19 206.72,294.09 207.49,293.98 208.27,293.86 209.05,293.73 209.83,293.59 210.61,293.43 211.39,293.27 212.17,293.09 212.95,292.89 213.73,292.68 214.51,292.46 215.29,292.22 216.07,291.96 216.85,291.68 217.63,291.38 218.41,291.06 219.18,290.71 219.96,290.34 220.74,289.95 221.52,289.52 222.30,289.07 223.08,288.59 223.86,288.08 224.64,287.54 225.42,286.96 226.20,286.35 226.98,285.70 227.76,285.02 228.54,284.29 229.32,283.52 230.10,282.72 230.87,281.87 231.65,280.97 232.43,280.04 233.21,279.05 233.99,278.03 234.77,276.95 235.55,275.83 236.33,274.67 237.11,273.46 237.89,272.20 238.67,270.90 239.45,269.56 240.23,268.17 241.01,266.75 241.78,265.28 242.56,263.78 243.34,262.25 244.12,260.68 244.90,259.09 245.68,257.48 246.46,255.84 247.24,254.19 248.02,252.53 248.80,250.87 249.58,249.20 250.36,247.54 251.14,245.90 251.92,244.26 252.70,242.66 253.47,241.08 254.25,239.53 255.03,238.03 255.81,236.58 256.59,235.18 257.37,233.84 258.15,232.57 258.93,231.37 259.71,230.25 260.49,229.21 261.27,228.26 262.05,227.40 262.83,226.63 263.61,225.97 264.38,225.41 265.16,224.95 265.94,224.60 266.72,224.35 267.50,224.21 268.28,224.19 269.06,224.27 269.84,224.45 270.62,224.74 271.40,225.14 272.18,225.63 272.96,226.23 273.74,226.91 274.52,227.69 275.30,228.56 276.07,229.50 276.85,230.53 277.63,231.62 278.41,232.78 279.19,234.01 279.97,235.29 280.75,236.62 281.53,238.00 282.31,239.41 283.09,240.86 283.87,242.34 284.65,243.85 285.43,245.37 286.21,246.90 286.99,248.45 287.76,250.00 288.54,251.54 289.32,253.09 290.10,254.62 290.88,256.15 291.66,257.65 292.44,259.14 293.22,260.61 294.00,262.05 294.78,263.47 295.56,264.86 296.34,266.21 297.12,267.53 297.90,268.82 298.68,270.08 299.45,271.30 300.23,272.48 301.01,273.62 301.79,274.72 302.57,275.79 303.35,276.82 304.13,277.81 304.91,278.76 305.69,279.67 306.47,280.54 307.25,281.38 308.03,282.18 308.81,282.94 309.59,283.67 310.36,284.36 311.14,285.03 311.92,285.65 312.70,286.25 313.48,286.82 314.26,287.35 315.04,287.86 315.82,288.34 316.60,288.79 317.38,289.22 318.16,289.63 318.94,290.01 319.72,290.36 320.50,290.70 321.28,291.02 322.05,291.31 322.83,291.59 323.61,291.85 324.39,292.10 325.17,292.33 325.95,292.54 326.73,292.74 327.51,292.93 328.29,293.10 329.07,293.27 329.85,293.42 330.63,293.56 331.41,293.69 332.19,293.81 332.96,293.93 333.74,294.03 334.52,294.13 335.30,294.22 336.08,294.30 336.86,294.38 337.64,294.45 338.42,294.52 339.20,294.58 339.98,294.64 340.76,294.69 341.54,294.74 342.32,294.79 343.10,294.83 343.88,294.87 344.65,294.90 345.43,294.94 346.21,294.97 346.99,294.99 347.77,295.02 348.55,295.04 349.33,295.06 350.11,295.08 350.89,295.10 351.67,295.12 352.45,295.13 353.23,295.15 354.01,295.16 354.79,295.17 355.57,295.18 356.34,295.19 357.12,295.20 357.90,295.21 358.68,295.22 359.46,295.23 360.24,295.23 361.02,295.24 361.80,295.24 362.58,295.25 363.36,295.25 364.14,295.26 364.92,295.26 365.70,295.26 366.48,295.27 367.26,295.27 368.03,295.27 368.81,295.28 369.59,295.28 370.37,295.28 371.15,295.28 371.93,295.28 372.71,295.28 373.49,295.29 374.27,295.29 375.05,295.29 375.83,295.29 376.61,295.29 377.39,295.29 378.17,295.29 378.94,295.29 379.72,295.29 380.50,295.29 381.28,295.29 382.06,295.30 382.84,295.30 383.62,295.30 384.40,295.30" stroke="#777722" stroke-width="1.75"/>
<polyline points="41.50,295.30 42.28,295.30 43.06,295.30 43.84,295.30 44.62,295.30 45.40,295.30 46.18,295.30 46.96,295.30 47.73,295.30 48.51,295.30 49.29,295.30 50.07,295.30 50.85,295.30 51.63,295.30 52.41,295.30 53.19,295.30 53.97,295.30 54.75,295.30 55.53,295.30 56.31,295.30 57.09,295.30 57.87,295.30 58.64,295.30 59.42,295.30 60.20,295.30 60.98,295.30 61.76,295.30 62.54,295.30 63.32,295.30 64.10,295.30 64.88,295.30 65.66,295.30 66.44,295.30 67.22,295.30 68.00,295.30 68.78,295.30 69.56,295.30 70.33,295.30 71.11,295.30 71.89,295.30 72.67,295.30 73.45,295.30 74.23,295.30 75.01,295.30 75.79,295.30 76.57,295.30 77.35,295.30 78.13,295.30 78.91,295.30 79.69,295.30 80.47,295.30 81.25,295.30 82.02,295.30 82.80,295.30 83.58,295.30 84.36,295.30 85.14,295.30 85.92,295.30 86.70,295.30 87.48,295.30 88.26,295.30 89.04,295.30 89.82,295.30 90.60,295.30 91.38,295.30 92.16,295.30 92.94,295.30 93.71,295.30 94.49,295.30 95.27,295.30 96.05,295.30 96.83,295.30 97.61,295.30 98.39,295.30 99.17,295.30 99.95,295.30 100.73,295.30 101.51,295.30 102.29,295.30 103.07,295.30 103.85,295.30 104.62,295.30 105.40,295.30 106.18,295.30 106.96,295.30 107.74,295.30 108.52,295.30 109.30,295.30 110.08,295.30 110.86,295.30 111.64,295.30 112.42,295.30 113.20,295.30 113.98,295.30 114.76,295.30 115.54,295.30 116.31,295.30 117.09,295.30 117.87,295.30 118.65,295.30 119.43,295.30 120.21,295.30 120.99,295.30 121.77,295.30 122.55,295.30 123.33,295.30 124.11,295.30 124.89,295.30 125.67,295.30 126.45,295.30 127.22,295.30 128.00,295.30 128.78,295.30 129.56,295.30 130.34,295.30 131.12,295.30 131.90,295.30 132.68,295.30 133.46,295.30 134.24,295.30 135.02,295.30 135.80,295.30 136.58,295.30 137.36,295.30 138.14,295.30 138.91,295.29 139.69,295.29 140.47,295.29 141.25,295.29 142.03,295.29 142.81,295.29 143.59,295.29 144.37,295.29 145.15,295.29 145.93,295.29 146.71,295.29 147.49,295.29 148.27,295.28 149.05,295.28 149.83,295.28 150.60,295.28 151.38,295.28 152.16,295.27 152.94,295.27 153.72,295.27 154.50,295.27 155.28,295.26 156.06,295.26 156.84,295.26 157.62,295.25 158.40,295.25 159.18,295.24 159.96,295.24 160.74,295.23 161.51,295.23 162.29,295.22 163.07,295.21 163.85,295.21 164.63,295.20 165.41,295.19 166.19,295.18 166.97,295.17 167.75,295.15 168.53,295.14 169.31,295.13 170.09,295.11 170.87,295.10 171.65,295.08 172.43,295.06 173.20,295.04 173.98,295.02 174.76,294.99 175.54,294.97 176.32,294.94 177.10,294.91 177.88,294.87 178.66,294.84 179.44,294.80 180.22,294.76 181.00,294.71 181.78,294.67 182.56,294.61 183.34,294.56 184.12,294.50 184.89,294.43 185.67,294.36 186.45,294.29 187.23,294.21 188.01,294.12 188.79,294.03 189.57,293.93 190.35,293.83 191.13,293.71 191.91,293.59 192.69,293.46 193.47,293.33 194.25,293.18 195.03,293.02 195.81,292.85 196.58,292.67 197.36,292.48 198.14,292.28 198.92,292.06 199.70,291.83 200.48,291.59 201.26,291.33 202.04,291.05 202.82,290.76 203.60,290.45 204.38,290.12 205.16,289.77 205.94,289.40 206.72,289.01 207.49,288.60 208.27,288.17 209.05,287.72 209.83,287.24 210.61,286.73 211.39,286.20 212.17,285.64 212.95,285.06 213.73,284.44 214.51,283.80 215.29,283.13 216.07,282.43 216.85,281.70 217.63,280.93 218.41,280.14 219.18,279.31 219.96,278.45 220.74,277.56 221.52,276.63 222.30,275.67 223.08,274.68 223.86,273.66 224.64,272.60 225.42,271.52 226.20,270.40 226.98,269.26 227.76,268.08 228.54,266.88 229.32,265.65 230.10,264.40 230.87,263.13 231.65,261.84 232.43,260.53 233.21,259.21 233.99,257.87 234.77,256.53 235.55,255.18 236.33,253.83 237.11,252.48 237.89,251.13 238.67,249.80 239.45,248.48 240.23,247.17 241.01,245.89 241.78,244.64 242.56,243.42 243.34,242.24 244.12,241.10 244.90,240.01 245.68,238.97 246.46,237.99 247.24,237.07 248.02,236.21 248.80,235.43 249.58,234.72 250.36,234.09 251.14,233.54 251.92,233.07 252.70,232.69 253.47,232.41 254.25,232.21 255.03,232.12 255.81,232.11 256.59,232.20 257.37,232.39 258.15,232.68 258.93,233.05 259.71,233.53 260.49,234.09 261.27,234.74 262.05,235.48 262.83,236.30 263.61,237.20 264.38,238.17 265.16,239.22 265.94,240.33 266.72,241.50 267.50,242.73 268.28,244.01 269.06,245.33 269.84,246.69 270.62,248.08 271.40,249.51 272.18,250.95 272.96,252.42 273.74,253.89 274.52,255.37 275.30,256.86 276.07,258.34 276.85,259.81 277.63,261.27 278.41,262.72 279.19,264.15 279.97,265.55 280.75,266.93 281.53,268.28 282.31,269.60 283.09,270.88 283.87,272.13 284.65,273.34 285.43,274.52 286.21,275.66 286.99,276.75 287.76,277.81 288.54,278.82 289.32,279.80 290.10,280.73 290.88,281.62 291.66,282.47 292.44,283.28 293.22,284.06 294.00,284.79 294.78,285.49 295.56,286.15 296.34,286.77 297.12,287.36 297.90,287.91 298.68,288.44 299.45,288.93 300.23,289.39 301.01,289.83 301.79,290.23 302.57,290.62 303.35,290.97 304.13,291.30 304.91,291.61 305.69,291.90 306.47,292.17 307.25,292.42 308.03,292.66 308.81,292.87 309.59,293.07 310.36,293.26 311.14,293.43 311.92,293.58 312.70,293.73 313.48,293.86 314.26,293.99 315.04,294.10 315.82,294.21 316.60,294.30 317.38,294.39 318.16,294.47 318.94,294.55 319.72,294.62 320.50,294.68 321.28,294.74 322.05,294.79 322.83,294.84 323.61,294.88 324.39,294.92 325.17,294.95 325.95,294.99 326.73,295.02 327.51,295.04 328.29,295.07 329.07,295.09 329.85,295.11 330.63,295.13 331.41,295.15 332.19,295.16 332.96,295.18 333.74,295.19 334.52,295.20 335.30,295.21 336.08,295.22 336.86,295.23 337.64,295.23 338.42,295.24 339.20,295.25 339.98,295.25 340.76,295.26 341.54,295.26 342.32,295.27 343.10,295.27 343.88,295.27 344.65,295.28 345.43,295.28 346.21,295.28 346.99,295.28 347.77,295.28 348.55,295.29 349.33,295.29 350.11,295.29 350.89,295.29 351.67,295.29 352.45,295.29 353.23,295.29 354.01,295.29 354.79,295.29 355.57,295.29 356.34,295.30 357.12,295.30 357.90,295.30 358.68,295.30 359.46,295.30 360.24,295.30 361.02,295.30 361.80,295.30 362.58,295.30 363.36,295.30 364.14,295.30 364.92,295.30 365.70,295.30 366.48,295.30 367.26,295.30 368.03,295.30 368.81,295.30 369.59,295.30 370.37,295.30 371.15,295.30 371.93,295.30 372.71,295.30 373.49,295.30 374.27,295.30 375.05,295.30 375.83,295.30 376.61,295.30 377.39,295.30 378.17,295.30 378.94,295.30 379.72,295.30 380.50,295.30 381.28,295.30 382.06,295.30 382.84,295.30 383.62,295.30 384.40,295.30" stroke="#0b7445" stroke-width="1.75"/>
<polyline points="41.50,295.30 42.28,295.30 43.06,295.30 43.84,295.30 44.62,295.30 45.40,295.30 46.18,295.30 46.96,295.30 47.73,295.30 48.51,295.30 49.29,295.30 50.07,295.30 50.85,295.30 51.63,295.30 52.41,295.30 53.19,295.30 53.97,295.30 54.75,295.30 55.53,295.30 56.31,295.30 57.09,295.30 57.87,295.30 58.64,295.30 59.42,295.30 60.20,295.30 60.98,295.30 61.76,295.30 62.54,295.30 63.32,295.30 64.10,295.30 64.88,295.30 65.66,295.30 66.44,295.30 67.22,295.30 68.00,295.30 68.78,295.30 69.56,295.30 70.33,295.30 71.11,295.30 71.89,295.30 72.67,295.30 73.45,295.30 74.23,295.30 75.01,295.30 75.79,295.30 76.57,295.30 77.35,295.30 78.13,295.30 78.91,295.30 79.69,295.30 80.47,295.30 81.25,295.30 82.02,295.30 82.80,295.30 83.58,295.30 84.36,295.30 85.14,295.30 85.92,295.30 86.70,295.30 87.48,295.30 88.26,295.30 89.04,295.30 89.82,295.30 90.60,295.30 91.38,295.30 92.16,295.30 92.94,295.30 93.71,295.30 94.49,295.30 95.27,295.30 96.05,295.30 96.83,295.29 97.61,295.29 98.39,295.29 99.17,295.29 99.95,295.29 100.73,295.29 101.51,295.29 102.29,295.29 103.07,295.29 103.85,295.29 104.62,295.29 105.40,295.29 106.18,295.29 106.96,295.29 107.74,295.29 108.52,295.28 109.30,295.28 110.08,295.28 110.86,295.28 111.64,295.28 112.42,295.28 113.20,295.28 113.98,295.27 114.76,295.27 115.54,295.27 116.31,295.27 117.09,295.27 117.87,295.26 118.65,295.26 119.43,295.26 120.21,295.25 120.99,295.25 121.77,295.25 122.55,295.24 123.33,295.24 124.11,295.24 124.89,295.23 125.67,295.23 126.45,295.22 127.22,295.21 128.00,295.21 128.78,295.20 129.56,295.19 130.34,295.19 131.12,295.18 131.90,295.17 132.68,295.16 133.46,295.15 134.24,295.14 135.02,295.13 135.80,295.12 136.58,295.10 137.36,295.09 138.14,295.08 138.91,295.06 139.69,295.04 140.47,295.03 141.25,295.01 142.03,294.99 142.81,294.96 143.59,294.94 144.37,294.92 145.15,294.89 145.93,294.86 146.71,294.83 147.49,294.80 148.27,294.77 149.05,294.73 149.83,294.69 150.60,294.65 151.38,294.61 152.16,294.56 152.94,294.51 153.72,294.46 154.50,294.40 155.28,294.34 156.06,294.28 156.84,294.21 157.62,294.14 158.40,294.07 159.18,293.99 159.96,293.90 160.74,293.81 161.51,293.72 162.29,293.61 163.07,293.51 163.85,293.39 164.63,293.27 165.41,293.15 166.19,293.01 166.97,292.87 167.75,292.72 168.53,292.56 169.31,292.40 170.09,292.22 170.87,292.03 171.65,291.84 172.43,291.63 173.20,291.41 173.98,291.18 174.76,290.94 175.54,290.69 176.32,290.42 177.10,290.14 177.88,289.84 178.66,289.53 179.44,289.21 180.22,288.87 181.00,288.51 181.78,288.13 182.56,287.74 183.34,287.32 184.12,286.89 184.89,286.44 185.67,285.97 186.45,285.48 187.23,284.96 188.01,284.42 188.79,283.86 189.57,283.28 190.35,282.67 191.13,282.03 191.91,281.37 192.69,280.69 193.47,279.97 194.25,279.23 195.03,278.46 195.81,277.67 196.58,276.84 197.36,275.99 198.14,275.11 198.92,274.19 199.70,273.25 200.48,272.27 201.26,271.27 202.04,270.24 202.82,269.17 203.60,268.08 204.38,266.95 205.16,265.80 205.94,264.61 206.72,263.40 207.49,262.16 208.27,260.89 209.05,259.59 209.83,258.27 210.61,256.92 211.39,255.55 212.17,254.16 212.95,252.74 213.73,251.31 214.51,249.86 215.29,248.39 216.07,246.91 216.85,245.42 217.63,243.92 218.41,242.41 219.18,240.90 219.96,239.39 220.74,237.88 221.52,236.38 222.30,234.88 223.08,233.40 223.86,231.93 224.64,230.49 225.42,229.06 226.20,227.66 226.98,226.30 227.76,224.97 228.54,223.68 229.32,222.43 230.10,221.23 230.87,220.09 231.65,219.00 232.43,217.97 233.21,217.01 233.99,216.12 234.77,215.30 235.55,214.56 236.33,213.90 237.11,213.32 237.89,212.84 238.67,212.44 239.45,212.14 240.23,211.94 241.01,211.84 241.78,211.84 242.56,211.94 243.34,212.15 244.12,212.46 244.90,212.88 245.68,213.40 246.46,214.03 247.24,214.76 248.02,215.60 248.80,216.53 249.58,217.56 250.36,218.69 251.14,219.91 251.92,221.22 252.70,222.61 253.47,224.08 254.25,225.63 255.03,227.24 255.81,228.92 256.59,230.65 257.37,232.44 258.15,234.26 258.93,236.13 259.71,238.03 260.49,239.95 261.27,241.89 262.05,243.85 262.83,245.81 263.61,247.76 264.38,249.71 265.16,251.65 265.94,253.57 266.72,255.47 267.50,257.34 268.28,259.18 269.06,260.98 269.84,262.74 270.62,264.45 271.40,266.12 272.18,267.74 272.96,269.31 273.74,270.82 274.52,272.28 275.30,273.68 276.07,275.03 276.85,276.32 277.63,277.55 278.41,278.72 279.19,279.84 279.97,280.90 280.75,281.91 281.53,282.86 282.31,283.76 283.09,284.61 283.87,285.40 284.65,286.15 285.43,286.86 286.21,287.52 286.99,288.13 287.76,288.71 288.54,289.24 289.32,289.74 290.10,290.20 290.88,290.63 291.66,291.03 292.44,291.40 293.22,291.74 294.00,292.06 294.78,292.35 295.56,292.61 296.34,292.86 297.12,293.08 297.90,293.29 298.68,293.48 299.45,293.65 300.23,293.81 301.01,293.95 301.79,294.08 302.57,294.20 303.35,294.31 304.13,294.41 304.91,294.50 305.69,294.58 306.47,294.65 307.25,294.72 308.03,294.78 308.81,294.83 309.59,294.88 310.36,294.93 311.14,294.97 311.92,295.00 312.70,295.03 313.48,295.06 314.26,295.09 315.04,295.11 315.82,295.13 316.60,295.15 317.38,295.17 318.16,295.18 318.94,295.20 319.72,295.21 320.50,295.22 321.28,295.23 322.05,295.24 322.83,295.24 323.61,295.25 324.39,295.26 325.17,295.26 325.95,295.27 326.73,295.27 327.51,295.27 328.29,295.28 329.07,295.28 329.85,295.28 330.63,295.28 331.41,295.29 332.19,295.29 332.96,295.29 333.74,295.29 334.52,295.29 335.30,295.29 336.08,295.29 336.86,295.29 337.64,295.29 338.42,295.30 339.20,295.30 339.98,295.30 340.76,295.30 341.54,295.30 342.32,295.30 343.10,295.30 343.88,295.30 344.65,295.30 345.43,295.30 346.21,295.30 346.99,295.30 347.77,295.30 348.55,295.30 349.33,295.30 350.11,295.30 350.89,295.30 351.67,295.30 352.45,295.30 353.23,295.30 354.01,295.30 354.79,295.30 355.57,295.30 356.34,295.30 357.12,295.30 357.90,295.30 358.68,295.30 359.46,295.30 360.24,295.30 361.02,295.30 361.80,295.30 362.58,295.30 363.36,295.30 364.14,295.30 364.92,295.30 365.70,295.30 366.48,295.30 367.26,295.30 368.03,295.30 368.81,295.30 369.59,295.30 370.37,295.30 371.15,295.30 371.93,295.30 372.71,295.30 373.49,295.30 374.27,295.30 375.05,295.30 375.83,295.30 376.61,295.30 377.39,295.30 378.17,295.30 378.94,295.30 379.72,295.30 380.50,295.30 381.28,295.30 382.06,295.30 382.84,295.30 383.62,295.30 384.40,295.30" stroke="#141414" stroke-width="1.5"/>
<polyline points="41.50,295.29 42.28,295.28 43.06,295.28 43.84,295.28 44.62,295.28 45.40,295.28 46.18,295.28 46.96,295.28 47.73,295.28 48.51,295.28 49.29,295.28 50.07,295.27 50.85,295.27 51.63,295.27 52.41,295.27 53.19,295.27 53.97,295.27 54.75,295.27 55.53,295.26 56.31,295.26 57.09,295.26 57.87,295.26 58.64,295.26 59.42,295.25 60.20,295.25 60.98,295.25 61.76,295.25 62.54,295.24 63.32,295.24 64.10,295.24 64.88,295.23 65.66,295.23 66.44,295.23 67.22,295.22 68.00,295.22 68.78,295.22 69.56,295.21 70.33,295.21 71.11,295.20 71.89,295.20 72.67,295.19 73.45,295.19 74.23,295.18 75.01,295.18 75.79,295.17 76.57,295.16 77.35,295.16 78.13,295.15 78.91,295.14 79.69,295.13 80.47,295.12 81.25,295.12 82.02,295.11 82.80,295.10 83.58,295.09 84.36,295.08 85.14,295.06 85.92,295.05 86.70,295.04 87.48,295.03 88.26,295.01 89.04,295.00 89.82,294.99 90.60,294.97 91.38,294.95 92.16,294.94 92.94,294.92 93.71,294.90 94.49,294.88 95.27,294.86 96.05,294.84 96.83,294.81 97.61,294.79 98.39,294.77 99.17,294.74 99.95,294.71 100.73,294.68 101.51,294.65 102.29,294.62 103.07,294.59 103.85,294.55 104.62,294.52 105.40,294.48 106.18,294.44 106.96,294.40 107.74,294.36 108.52,294.31 109.30,294.26 110.08,294.21 110.86,294.16 111.64,294.11 112.42,294.05 113.20,293.99 113.98,293.93 114.76,293.86 115.54,293.79 116.31,293.72 117.09,293.65 117.87,293.57 118.65,293.49 119.43,293.40 120.21,293.31 120.99,293.22 121.77,293.12 122.55,293.02 123.33,292.91 124.11,292.80 124.89,292.69 125.67,292.57 126.45,292.44 127.22,292.31 128.00,292.17 128.78,292.03 129.56,291.88 130.34,291.73 131.12,291.57 131.90,291.40 132.68,291.22 133.46,291.04 134.24,290.85 135.02,290.65 135.80,290.44 136.58,290.23 137.36,290.00 138.14,289.77 138.91,289.53 139.69,289.28 140.47,289.01 141.25,288.74 142.03,288.46 142.81,288.16 143.59,287.86 144.37,287.54 145.15,287.21 145.93,286.87 146.71,286.52 147.49,286.15 148.27,285.77 149.05,285.37 149.83,284.96 150.60,284.54 151.38,284.10 152.16,283.65 152.94,283.18 153.72,282.69 154.50,282.18 155.28,281.66 156.06,281.13 156.84,280.57 157.62,280.00 158.40,279.40 159.18,278.79 159.96,278.16 160.74,277.51 161.51,276.84 162.29,276.15 163.07,275.44 163.85,274.70 164.63,273.95 165.41,273.17 166.19,272.38 166.97,271.56 167.75,270.71 168.53,269.85 169.31,268.96 170.09,268.05 170.87,267.12 171.65,266.17 172.43,265.19 173.20,264.19 173.98,263.16 174.76,262.12 175.54,261.05 176.32,259.96 177.10,258.84 177.88,257.71 178.66,256.55 179.44,255.37 180.22,254.17 181.00,252.95 181.78,251.70 182.56,250.44 183.34,249.16 184.12,247.87 184.89,246.55 185.67,245.22 186.45,243.87 187.23,242.51 188.01,241.14 188.79,239.75 189.57,238.35 190.35,236.95 191.13,235.53 191.91,234.10 192.69,232.67 193.47,231.24 194.25,229.81 195.03,228.37 195.81,226.93 196.58,225.50 197.36,224.07 198.14,222.65 198.92,221.24 199.70,219.84 200.48,218.45 201.26,217.08 202.04,215.73 202.82,214.40 203.60,213.09 204.38,211.80 205.16,210.55 205.94,209.32 206.72,208.13 207.49,206.97 208.27,205.85 209.05,204.77 209.83,203.74 210.61,202.75 211.39,201.81 212.17,200.92 212.95,200.09 213.73,199.31 214.51,198.59 215.29,197.94 216.07,197.35 216.85,196.82 217.63,196.36 218.41,195.98 219.18,195.66 219.96,195.42 220.74,195.26 221.52,195.17 222.30,195.17 223.08,195.24 223.86,195.40 224.64,195.64 225.42,195.97 226.20,196.38 226.98,196.87 227.76,197.45 228.54,198.12 229.32,198.87 230.10,199.70 230.87,200.62 231.65,201.62 232.43,202.70 233.21,203.87 233.99,205.11 234.77,206.43 235.55,207.82 236.33,209.28 237.11,210.81 237.89,212.41 238.67,214.07 239.45,215.79 240.23,217.56 241.01,219.39 241.78,221.26 242.56,223.18 243.34,225.13 244.12,227.12 244.90,229.14 245.68,231.18 246.46,233.25 247.24,235.32 248.02,237.41 248.80,239.50 249.58,241.59 250.36,243.68 251.14,245.76 251.92,247.82 252.70,249.86 253.47,251.88 254.25,253.87 255.03,255.83 255.81,257.75 256.59,259.64 257.37,261.48 258.15,263.27 258.93,265.02 259.71,266.71 260.49,268.35 261.27,269.94 262.05,271.47 262.83,272.94 263.61,274.36 264.38,275.71 265.16,277.01 265.94,278.25 266.72,279.42 267.50,280.54 268.28,281.60 269.06,282.61 269.84,283.56 270.62,284.45 271.40,285.29 272.18,286.08 272.96,286.82 273.74,287.51 274.52,288.15 275.30,288.76 276.07,289.31 276.85,289.83 277.63,290.31 278.41,290.76 279.19,291.17 279.97,291.55 280.75,291.90 281.53,292.22 282.31,292.51 283.09,292.78 283.87,293.02 284.65,293.25 285.43,293.45 286.21,293.64 286.99,293.81 287.76,293.96 288.54,294.10 289.32,294.23 290.10,294.34 290.88,294.44 291.66,294.54 292.44,294.62 293.22,294.69 294.00,294.76 294.78,294.82 295.56,294.88 296.34,294.92 297.12,294.97 297.90,295.01 298.68,295.04 299.45,295.07 300.23,295.10 301.01,295.12 301.79,295.14 302.57,295.16 303.35,295.18 304.13,295.19 304.91,295.21 305.69,295.22 306.47,295.23 307.25,295.24 308.03,295.24 308.81,295.25 309.59,295.26 310.36,295.26 311.14,295.27 311.92,295.27 312.70,295.28 313.48,295.28 314.26,295.28 315.04,295.28 315.82,295.29 316.60,295.29 317.38,295.29 318.16,295.29 318.94,295.29 319.72,295.29 320.50,295.29 321.28,295.29 322.05,295.30 322.83,295.30 323.61,295.30 324.39,295.30 325.17,295.30 325.95,295.30 326.73,295.30 327.51,295.30 328.29,295.30 329.07,295.30 329.85,295.30 330.63,295.30 331.41,295.30 332.19,295.30 332.96,295.30 333.74,295.30 334.52,295.30 335.30,295.30 336.08,295.30 336.86,295.30 337.64,295.30 338.42,295.30 339.20,295.30 339.98,295.30 340.76,295.30 341.54,295.30 342.32,295.30 343.10,295.30 343.88,295.30 344.65,295.30 345.43,295.30 346.21,295.30 346.99,295.30 347.77,295.30 348.55,295.30 349.33,295.30 350.11,295.30 350.89,295.30 351.67,295.30 352.45,295.30 353.23,295.30 354.01,295.30 354.79,295.30 355.57,295.30 356.34,295.30 357.12,295.30 357.90,295.30 358.68,295.30 359.46,295.30 360.24,295.30 361.02,295.30 361.80,295.30 362.58,295.30 363.36,295.30 364.14,295.30 364.92,295.30 365.70,295.30 366.48,295.30 367.26,295.30 368.03,295.30 368.81,295.30 369.59,295.30 370.37,295.30 371.15,295.30 371.93,295.30 372.71,295.30 373.49,295.30 374.27,295.30 375.05,295.30 375.83,295.30 376.61,295.30 377.39,295.30 378.17,295.30 378.94,295.30 379.72,295.30 380.50,295.30 381.28,295.30 382.06,295.30 382.84,295.30 383.62,295.30 384.40,295.30" stroke="#c445b0" stroke-width="1.75"/>
<polyline points="41.50,291.09 42.28,290.98 43.06,290.88 43.84,290.77 44.62,290.65 45.40,290.54 46.18,290.42 46.96,290.30 47.73,290.17 48.51,290.05 49.29,289.92 50.07,289.78 50.85,289.64 51.63,289.50 52.41,289.36 53.19,289.21 53.97,289.06 54.75,288.91 55.53,288.75 56.31,288.59 57.09,288.42 57.87,288.25 58.64,288.08 59.42,287.90 60.20,287.72 60.98,287.53 61.76,287.34 62.54,287.14 63.32,286.94 64.10,286.74 64.88,286.53 65.66,286.31 66.44,286.09 67.22,285.87 68.00,285.64 68.78,285.40 69.56,285.16 70.33,284.91 71.11,284.66 71.89,284.40 72.67,284.13 73.45,283.86 74.23,283.59 75.01,283.30 75.79,283.01 76.57,282.71 77.35,282.41 78.13,282.10 78.91,281.78 79.69,281.45 80.47,281.12 81.25,280.78 82.02,280.43 82.80,280.08 83.58,279.71 84.36,279.34 85.14,278.96 85.92,278.57 86.70,278.17 87.48,277.77 88.26,277.35 89.04,276.93 89.82,276.49 90.60,276.05 91.38,275.59 92.16,275.13 92.94,274.66 93.71,274.18 94.49,273.68 95.27,273.18 96.05,272.66 96.83,272.14 97.61,271.60 98.39,271.05 99.17,270.50 99.95,269.92 100.73,269.34 101.51,268.75 102.29,268.14 103.07,267.52 103.85,266.89 104.62,266.25 105.40,265.59 106.18,264.92 106.96,264.24 107.74,263.55 108.52,262.84 109.30,262.12 110.08,261.38 110.86,260.63 111.64,259.87 112.42,259.09 113.20,258.30 113.98,257.49 114.76,256.67 115.54,255.84 116.31,254.99 117.09,254.12 117.87,253.24 118.65,252.35 119.43,251.44 120.21,250.52 120.99,249.58 121.77,248.63 122.55,247.66 123.33,246.67 124.11,245.67 124.89,244.66 125.67,243.63 126.45,242.58 127.22,241.53 128.00,240.45 128.78,239.36 129.56,238.26 130.34,237.14 131.12,236.01 131.90,234.86 132.68,233.70 133.46,232.52 134.24,231.33 135.02,230.13 135.80,228.92 136.58,227.69 137.36,226.45 138.14,225.19 138.91,223.93 139.69,222.65 140.47,221.36 141.25,220.06 142.03,218.76 142.81,217.44 143.59,216.11 144.37,214.77 145.15,213.43 145.93,212.08 146.71,210.72 147.49,209.36 148.27,207.99 149.05,206.61 149.83,205.24 150.60,203.86 151.38,202.47 152.16,201.09 152.94,199.70 153.72,198.32 154.50,196.94 155.28,195.56 156.06,194.18 156.84,192.81 157.62,191.44 158.40,190.08 159.18,188.73 159.96,187.39 160.74,186.06 161.51,184.74 162.29,183.43 163.07,182.14 163.85,180.86 164.63,179.60 165.41,178.35 166.19,177.13 166.97,175.93 167.75,174.75 168.53,173.59 169.31,172.46 170.09,171.36 170.87,170.28 171.65,169.24 172.43,168.22 173.20,167.24 173.98,166.29 174.76,165.38 175.54,164.50 176.32,163.66 177.10,162.87 177.88,162.11 178.66,161.40 179.44,160.73 180.22,160.11 181.00,159.53 181.78,159.00 182.56,158.52 183.34,158.09 184.12,157.72 184.89,157.40 185.67,157.13 186.45,156.92 187.23,156.76 188.01,156.66 188.79,156.62 189.57,156.64 190.35,156.72 191.13,156.86 191.91,157.06 192.69,157.33 193.47,157.65 194.25,158.04 195.03,158.49 195.81,159.01 196.58,159.59 197.36,160.23 198.14,160.94 198.92,161.71 199.70,162.55 200.48,163.44 201.26,164.41 202.04,165.43 202.82,166.51 203.60,167.66 204.38,168.87 205.16,170.13 205.94,171.46 206.72,172.84 207.49,174.28 208.27,175.77 209.05,177.32 209.83,178.91 210.61,180.56 211.39,182.26 212.17,184.00 212.95,185.79 213.73,187.62 214.51,189.50 215.29,191.41 216.07,193.36 216.85,195.34 217.63,197.36 218.41,199.40 219.18,201.47 219.96,203.57 220.74,205.69 221.52,207.83 222.30,209.98 223.08,212.15 223.86,214.33 224.64,216.52 225.42,218.72 226.20,220.92 226.98,223.12 227.76,225.31 228.54,227.51 229.32,229.69 230.10,231.86 230.87,234.02 231.65,236.17 232.43,238.29 233.21,240.40 233.99,242.48 234.77,244.54 235.55,246.57 236.33,248.57 237.11,250.53 237.89,252.46 238.67,254.36 239.45,256.21 240.23,258.03 241.01,259.80 241.78,261.53 242.56,263.22 243.34,264.86 244.12,266.45 244.90,268.00 245.68,269.49 246.46,270.94 247.24,272.34 248.02,273.68 248.80,274.98 249.58,276.22 250.36,277.42 251.14,278.56 251.92,279.65 252.70,280.70 253.47,281.69 254.25,282.63 255.03,283.53 255.81,284.38 256.59,285.18 257.37,285.94 258.15,286.66 258.93,287.33 259.71,287.96 260.49,288.56 261.27,289.11 262.05,289.63 262.83,290.11 263.61,290.56 264.38,290.97 265.16,291.36 265.94,291.72 266.72,292.05 267.50,292.35 268.28,292.63 269.06,292.89 269.84,293.12 270.62,293.34 271.40,293.53 272.18,293.71 272.96,293.88 273.74,294.03 274.52,294.16 275.30,294.28 276.07,294.39 276.85,294.49 277.63,294.58 278.41,294.66 279.19,294.73 279.97,294.80 280.75,294.86 281.53,294.91 282.31,294.95 283.09,294.99 283.87,295.03 284.65,295.06 285.43,295.09 286.21,295.12 286.99,295.14 287.76,295.16 288.54,295.18 289.32,295.19 290.10,295.21 290.88,295.22 291.66,295.23 292.44,295.24 293.22,295.25 294.00,295.25 294.78,295.26 295.56,295.27 296.34,295.27 297.12,295.27 297.90,295.28 298.68,295.28 299.45,295.28 300.23,295.29 301.01,295.29 301.79,295.29 302.57,295.29 303.35,295.29 304.13,295.29 304.91,295.29 305.69,295.30 306.47,295.30 307.25,295.30 308.03,295.30 308.81,295.30 309.59,295.30 310.36,295.30 311.14,295.30 311.92,295.30 312.70,295.30 313.48,295.30 314.26,295.30 315.04,295.30 315.82,295.30 316.60,295.30 317.38,295.30 318.16,295.30 318.94,295.30 319.72,295.30 320.50,295.30 321.28,295.30 322.05,295.30 322.83,295.30 323.61,295.30 324.39,295.30 325.17,295.30 325.95,295.30 326.73,295.30 327.51,295.30 328.29,295.30 329.07,295.30 329.85,295.30 330.63,295.30 331.41,295.30 332.19,295.30 332.96,295.30 333.74,295.30 334.52,295.30 335.30,295.30 336.08,295.30 336.86,295.30 337.64,295.30 338.42,295.30 339.20,295.30 339.98,295.30 340.76,295.30 341.54,295.30 342.32,295.30 343.10,295.30 343.88,295.30 344.65,295.30 345.43,295.30 346.21,295.30 346.99,295.30 347.77,295.30 348.55,295.30 349.33,295.30 350.11,295.30 350.89,295.30 351.67,295.30 352.45,295.30 353.23,295.30 354.01,295.30 354.79,295.30 355.57,295.30 356.34,295.30 357.12,295.30 357.90,295.30 358.68,295.30 359.46,295.30 360.24,295.30 361.02,295.30 361.80,295.30 362.58,295.30 363.36,295.30 364.14,295.30 364.92,295.30 365.70,295.30 366.48,295.30 367.26,295.30 368.03,295.30 368.81,295.30 369.59,295.30 370.37,295.30 371.15,295.30 371.93,295.30 372.71,295.30 373.49,295.30 374.27,295.30 375.05,295.30 375.83,295.30 376.61,295.30 377.39,295.30 378.17,295.30 378.94,295.30 379.72,295.30 380.50,295.30 381.28,295.30 382.06,295.30 382.84,295.30 383.62,295.30 384.40,295.30" stroke="#3242b0" stroke-width="1.75"/>
<polyline points="41.50,8.73 42.28,8.83 43.06,8.94 43.84,9.05 44.62,9.17 45.40,9.28 46.18,9.40 46.96,9.52 47.73,9.65 48.51,9.78 49.29,9.91 50.07,10.04 50.85,10.18 51.63,10.32 52.41,10.47 53.19,10.62 53.97,10.77 54.75,10.93 55.53,11.09 56.31,11.25 57.09,11.42 57.87,11.59 58.64,11.77 59.42,11.95 60.20,12.13 60.98,12.32 61.76,12.51 62.54,12.71 63.32,12.92 64.10,13.12 64.88,13.34 65.66,13.56 66.44,13.78 67.22,14.01 68.00,14.24 68.78,14.48 69.56,14.73 70.33,14.98 71.11,15.24 71.89,15.50 72.67,15.77 73.45,16.05 74.23,16.33 75.01,16.62 75.79,16.92 76.57,17.22 77.35,17.54 78.13,17.85 78.91,18.18 79.69,18.51 80.47,18.86 81.25,19.20 82.02,19.56 82.80,19.93 83.58,20.30 84.36,20.69 85.14,21.08 85.92,21.48 86.70,21.89 87.48,22.31 88.26,22.74 89.04,23.18 89.82,23.63 90.60,24.09 91.38,24.56 92.16,25.04 92.94,25.53 93.71,26.03 94.49,26.54 95.27,27.07 96.05,27.60 96.83,28.15 97.61,28.71 98.39,29.29 99.17,29.87 99.95,30.47 100.73,31.08 101.51,31.71 102.29,32.35 103.07,33.00 103.85,33.66 104.62,34.34 105.40,35.04 106.18,35.75 106.96,36.47 107.74,37.21 108.52,37.97 109.30,38.74 110.08,39.53 110.86,40.33 111.64,41.15 112.42,41.98 113.20,42.84 113.98,43.71 114.76,44.60 115.54,45.50 116.31,46.42 117.09,47.36 117.87,48.32 118.65,49.30 119.43,50.30 120.21,51.32 120.99,52.35 121.77,53.41 122.55,54.48 123.33,55.57 124.11,56.69 124.89,57.82 125.67,58.98 126.45,60.15 127.22,61.35 128.00,62.57 128.78,63.81 129.56,65.07 130.34,66.35 131.12,67.65 131.90,68.98 132.68,70.32 133.46,71.69 134.24,73.08 135.02,74.49 135.80,75.93 136.58,77.39 137.36,78.86 138.14,80.37 138.91,81.89 139.69,83.44 140.47,85.00 141.25,86.59 142.03,88.21 142.81,89.84 143.59,91.50 144.37,93.18 145.15,94.88 145.93,96.60 146.71,98.34 147.49,100.11 148.27,101.89 149.05,103.70 149.83,105.53 150.60,107.38 151.38,109.25 152.16,111.13 152.94,113.04 153.72,114.97 154.50,116.91 155.28,118.87 156.06,120.86 156.84,122.85 157.62,124.87 158.40,126.90 159.18,128.95 159.96,131.01 160.74,133.09 161.51,135.19 162.29,137.29 163.07,139.41 163.85,141.54 164.63,143.69 165.41,145.84 166.19,148.01 166.97,150.18 167.75,152.37 168.53,154.56 169.31,156.76 170.09,158.97 170.87,161.18 171.65,163.39 172.43,165.62 173.20,167.84 173.98,170.07 174.76,172.29 175.54,174.52 176.32,176.75 177.10,178.98 177.88,181.20 178.66,183.42 179.44,185.64 180.22,187.85 181.00,190.06 181.78,192.26 182.56,194.45 183.34,196.63 184.12,198.80 184.89,200.97 185.67,203.12 186.45,205.25 187.23,207.38 188.01,209.49 188.79,211.58 189.57,213.66 190.35,215.72 191.13,217.76 191.91,219.79 192.69,221.79 193.47,223.78 194.25,225.74 195.03,227.68 195.81,229.60 196.58,231.50 197.36,233.37 198.14,235.21 198.92,237.03 199.70,238.83 200.48,240.59 201.26,242.33 202.04,244.04 202.82,245.73 203.60,247.38 204.38,249.01 205.16,250.60 205.94,252.17 206.72,253.70 207.49,255.20 208.27,256.68 209.05,258.12 209.83,259.53 210.61,260.90 211.39,262.25 212.17,263.56 212.95,264.84 213.73,266.09 214.51,267.31 215.29,268.49 216.07,269.65 216.85,270.77 217.63,271.85 218.41,272.91 219.18,273.94 219.96,274.93 220.74,275.89 221.52,276.82 222.30,277.72 223.08,278.59 223.86,279.43 224.64,280.24 225.42,281.02 226.20,281.78 226.98,282.50 227.76,283.20 228.54,283.86 229.32,284.51 230.10,285.12 230.87,285.71 231.65,286.27 232.43,286.81 233.21,287.33 233.99,287.82 234.77,288.29 235.55,288.74 236.33,289.16 237.11,289.56 237.89,289.95 238.67,290.31 239.45,290.65 240.23,290.98 241.01,291.29 241.78,291.58 242.56,291.85 243.34,292.11 244.12,292.35 244.90,292.58 245.68,292.79 246.46,292.99 247.24,293.17 248.02,293.35 248.80,293.51 249.58,293.66 250.36,293.80 251.14,293.93 251.92,294.05 252.70,294.17 253.47,294.27 254.25,294.36 255.03,294.45 255.81,294.53 256.59,294.61 257.37,294.67 258.15,294.74 258.93,294.79 259.71,294.84 260.49,294.89 261.27,294.93 262.05,294.97 262.83,295.01 263.61,295.04 264.38,295.07 265.16,295.09 265.94,295.12 266.72,295.14 267.50,295.16 268.28,295.17 269.06,295.19 269.84,295.20 270.62,295.21 271.40,295.22 272.18,295.23 272.96,295.24 273.74,295.25 274.52,295.26 275.30,295.26 276.07,295.27 276.85,295.27 277.63,295.27 278.41,295.28 279.19,295.28 279.97,295.28 280.75,295.29 281.53,295.29 282.31,295.29 283.09,295.29 283.87,295.29 284.65,295.29 285.43,295.29 286.21,295.30 286.99,295.30 287.76,295.30 288.54,295.30 289.32,295.30 290.10,295.30 290.88,295.30 291.66,295.30 292.44,295.30 293.22,295.30 294.00,295.30 294.78,295.30 295.56,295.30 296.34,295.30 297.12,295.30 297.90,295.30 298.68,295.30 299.45,295.30 300.23,295.30 301.01,295.30 301.79,295.30 302.57,295.30 303.35,295.30 304.13,295.30 304.91,295.30 305.69,295.30 306.47,295.30 307.25,295.30 308.03,295.30 308.81,295.30 309.59,295.30 310.36,295.30 311.14,295.30 311.92,295.30 312.70,295.30 313.48,295.30 314.26,295.30 315.04,295.30 315.82,295.30 316.60,295.30 317.38,295.30 318.16,295.30 318.94,295.30 319.72,295.30 320.50,295.30 321.28,295.30 322.05,295.30 322.83,295.30 323.61,295.30 324.39,295.30 325.17,295.30 325.95,295.30 326.73,295.30 327.51,295.30 328.29,295.30 329.07,295.30 329.85,295.30 330.63,295.30 331.41,295.30 332.19,295.30 332.96,295.30 333.74,295.30 334.52,295.30 335.30,295.30 336.08,295.30 336.86,295.30 337.64,295.30 338.42,295.30 339.20,295.30 339.98,295.30 340.76,295.30 341.54,295.30 342.32,295.30 343.10,295.30 343.88,295.30 344.65,295.30 345.43,295.30 346.21,295.30 346.99,295.30 347.77,295.30 348.55,295.30 349.33,295.30 350.11,295.30 350.89,295.30 351.67,295.30 352.45,295.30 353.23,295.30 354.01,295.30 354.79,295.30 355.57,295.30 356.34,295.30 357.12,295.30 357.90,295.30 358.68,295.30 359.46,295.30 360.24,295.30 361.02,295.30 361.80,295.30 362.58,295.30 363.36,295.30 364.14,295.30 364.92,295.30 365.70,295.30 366.48,295.30 367.26,295.30 368.03,295.30 368.81,295.30 369.59,295.30 370.37,295.30 371.15,295.30 371.93,295.30 372.71,295.30 373.49,295.30 374.27,295.30 375.05,295.30 375.83,295.30 376.61,295.30 377.39,295.30 378.17,295.30 378.94,295.30 379.72,295.30 380.50,295.30 381.28,295.30 382.06,295.30 382.84,295.30 383.62,295.30 384.40,295.30" stroke="#e6141c" stroke-width="1.75"/>
</g>
<line x1="38.9" y1="295.30" x2="43.9" y2="295.30" stroke="#555" stroke-width="1.1"/>
<text x="35.6" y="298.40" text-anchor="end" font-size="10" font-weight="bold">0</text>
<line x1="38.9" y1="266.22" x2="43.9" y2="266.22" stroke="#555" stroke-width="1.1"/>
<text x="35.6" y="269.32" text-anchor="end" font-size="10" font-weight="bold">0,1</text>
<rect x="29.87" y="267.40" width="2.45" height="3.12" fill="#fff"/>
<rect x="33.79" y="267.40" width="2.13" height="3.12" fill="#fff"/>
<line x1="38.9" y1="237.14" x2="43.9" y2="237.14" stroke="#555" stroke-width="1.1"/>
<text x="35.6" y="240.24" text-anchor="end" font-size="10" font-weight="bold">0,2</text>
<line x1="38.9" y1="208.06" x2="43.9" y2="208.06" stroke="#555" stroke-width="1.1"/>
<text x="35.6" y="211.16" text-anchor="end" font-size="10" font-weight="bold">0,3</text>
<line x1="38.9" y1="178.98" x2="43.9" y2="178.98" stroke="#555" stroke-width="1.1"/>
<text x="35.6" y="182.08" text-anchor="end" font-size="10" font-weight="bold">0,4</text>
<line x1="38.9" y1="149.90" x2="43.9" y2="149.90" stroke="#555" stroke-width="1.1"/>
<text x="35.6" y="153.00" text-anchor="end" font-size="10" font-weight="bold">0,5</text>
<line x1="38.9" y1="120.82" x2="43.9" y2="120.82" stroke="#555" stroke-width="1.1"/>
<text x="35.6" y="123.92" text-anchor="end" font-size="10" font-weight="bold">0,6</text>
<line x1="38.9" y1="91.74" x2="43.9" y2="91.74" stroke="#555" stroke-width="1.1"/>
<text x="35.6" y="94.84" text-anchor="end" font-size="10" font-weight="bold">0,7</text>
<line x1="38.9" y1="62.66" x2="43.9" y2="62.66" stroke="#555" stroke-width="1.1"/>
<text x="35.6" y="65.76" text-anchor="end" font-size="10" font-weight="bold">0,8</text>
<line x1="38.9" y1="33.58" x2="43.9" y2="33.58" stroke="#555" stroke-width="1.1"/>
<text x="35.6" y="36.68" text-anchor="end" font-size="10" font-weight="bold">0,9</text>
<line x1="38.9" y1="4.50" x2="43.9" y2="4.50" stroke="#555" stroke-width="1.1"/>
<text x="34.2" y="7.60" text-anchor="end" font-size="10" font-weight="bold">1</text>
<rect x="28.47" y="5.68" width="2.45" height="3.12" fill="#fff"/>
<rect x="32.39" y="5.68" width="2.13" height="3.12" fill="#fff"/>
<line x1="41.50" y1="293.3" x2="41.50" y2="298.90000000000003" stroke="#555" stroke-width="1.1"/>
<text x="41.50" y="309.6" text-anchor="middle" font-size="10" font-weight="bold">-7</text>
<line x1="72.67" y1="293.3" x2="72.67" y2="298.90000000000003" stroke="#555" stroke-width="1.1"/>
<text x="72.67" y="309.6" text-anchor="middle" font-size="10" font-weight="bold">-6</text>
<line x1="103.85" y1="293.3" x2="103.85" y2="298.90000000000003" stroke="#555" stroke-width="1.1"/>
<text x="103.85" y="309.6" text-anchor="middle" font-size="10" font-weight="bold">-5</text>
<line x1="135.02" y1="293.3" x2="135.02" y2="298.90000000000003" stroke="#555" stroke-width="1.1"/>
<text x="135.02" y="309.6" text-anchor="middle" font-size="10" font-weight="bold">-4</text>
<line x1="166.19" y1="293.3" x2="166.19" y2="298.90000000000003" stroke="#555" stroke-width="1.1"/>
<text x="166.19" y="309.6" text-anchor="middle" font-size="10" font-weight="bold">-3</text>
<line x1="197.36" y1="293.3" x2="197.36" y2="298.90000000000003" stroke="#555" stroke-width="1.1"/>
<text x="197.36" y="309.6" text-anchor="middle" font-size="10" font-weight="bold">-2</text>
<line x1="228.54" y1="293.3" x2="228.54" y2="298.90000000000003" stroke="#555" stroke-width="1.1"/>
<text x="228.54" y="309.6" text-anchor="middle" font-size="10" font-weight="bold">-1</text>
<rect x="227.25" y="307.68" width="2.45" height="3.12" fill="#fff"/>
<rect x="231.18" y="307.68" width="2.13" height="3.12" fill="#fff"/>
<line x1="259.71" y1="293.3" x2="259.71" y2="298.90000000000003" stroke="#555" stroke-width="1.1"/>
<text x="259.71" y="309.6" text-anchor="middle" font-size="10" font-weight="bold">0</text>
<line x1="290.88" y1="293.3" x2="290.88" y2="298.90000000000003" stroke="#555" stroke-width="1.1"/>
<text x="290.88" y="309.6" text-anchor="middle" font-size="10" font-weight="bold">1</text>
<rect x="287.93" y="307.68" width="2.45" height="3.12" fill="#fff"/>
<rect x="291.86" y="307.68" width="2.13" height="3.12" fill="#fff"/>
<line x1="322.05" y1="293.3" x2="322.05" y2="298.90000000000003" stroke="#555" stroke-width="1.1"/>
<text x="322.05" y="309.6" text-anchor="middle" font-size="10" font-weight="bold">2</text>
<line x1="353.23" y1="293.3" x2="353.23" y2="298.90000000000003" stroke="#555" stroke-width="1.1"/>
<text x="353.23" y="309.6" text-anchor="middle" font-size="10" font-weight="bold">3</text>
<line x1="384.40" y1="293.3" x2="384.40" y2="298.90000000000003" stroke="#555" stroke-width="1.1"/>
<text x="384.40" y="309.6" text-anchor="middle" font-size="10" font-weight="bold">4</text>
<text x="212" y="326.8" text-anchor="middle" font-size="11.5" font-weight="bold">Measure relative to item difficulty</text>
<text transform="translate(9.6,149.8) rotate(-90)" text-anchor="middle" font-size="13.2" font-weight="bold">Category Probability</text>
<text x="140.3" y="69.8" text-anchor="middle" font-size="11.5" stroke="#000" stroke-width="0.45" stroke-linejoin="round">1</text>
<rect x="136.93" y="67.79" width="3.02" height="3.46" fill="#fff"/>
<rect x="141.06" y="67.79" width="2.73" height="3.46" fill="#fff"/>
<text x="189.5" y="149.1" text-anchor="middle" font-size="11.5" stroke="#000" stroke-width="0.45" stroke-linejoin="round">2</text>
<text x="222.5" y="189.7" text-anchor="middle" font-size="11.5" stroke="#000" stroke-width="0.45" stroke-linejoin="round">3</text>
<text x="242" y="206.5" text-anchor="middle" font-size="11.5" stroke="#000" stroke-width="0.45" stroke-linejoin="round">4</text>
<text x="256.3" y="226.4" text-anchor="middle" font-size="11.5" stroke="#000" stroke-width="0.45" stroke-linejoin="round">5</text>
<text x="266.9" y="219.5" text-anchor="middle" font-size="11.5" stroke="#000" stroke-width="0.45" stroke-linejoin="round">6</text>
<text x="282.5" y="210.5" text-anchor="middle" font-size="11.5" stroke="#000" stroke-width="0.45" stroke-linejoin="round">7</text>
<text x="298" y="197.9" text-anchor="middle" font-size="11.5" stroke="#000" stroke-width="0.45" stroke-linejoin="round">8</text>
<text x="325" y="178.4" text-anchor="middle" font-size="11.5" stroke="#000" stroke-width="0.45" stroke-linejoin="round">9</text>
<text x="357.1" y="69.4" text-anchor="middle" font-size="11.5" stroke="#000" stroke-width="0.45" stroke-linejoin="round">10</text>
<rect x="350.53" y="67.39" width="3.02" height="3.46" fill="#fff"/>
<rect x="354.66" y="67.39" width="2.73" height="3.46" fill="#fff"/>
</svg>
</body></html>
